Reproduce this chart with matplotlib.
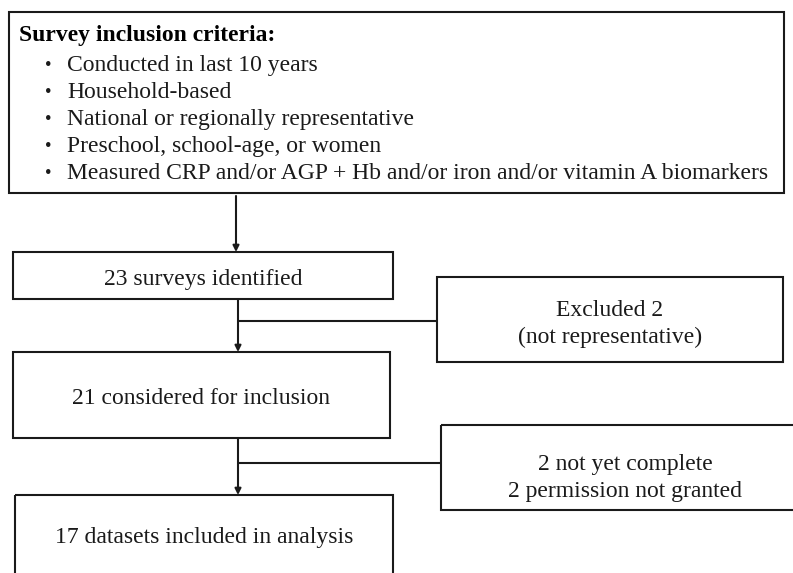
import matplotlib.pyplot as plt
from matplotlib.patches import Rectangle

# texts of the flow chart
criteria_title = "Survey inclusion criteria:"
criteria = [
    "Conducted in last 10 years",
    "Household-based",
    "National or regionally representative",
    "Preschool, school-age, or women",
    "Measured CRP and/or AGP + Hb and/or iron and/or vitamin A biomarkers",
]
main_steps = [
    "23 surveys identified",
    "21 considered for inclusion",
    "17 datasets included in analysis",
]
exclusions = [
    "Excluded 2\n(not representative)",
    "2 not yet complete\n2 permission not granted",
]

W, H = 793, 573
fig = plt.figure(figsize=(W / 100, H / 100), dpi=100)
ax = fig.add_axes([0, 0, 1, 1])
ax.set_xlim(0, W)
ax.set_ylim(H, 0)
ax.axis("off")

FONT = "Liberation Serif"
FS = 17
LC = "#1a1a1a"
LW = 1.5

def box(x0, y0, x1, y1):
    ax.add_patch(Rectangle((x0, y0), x1 - x0, y1 - y0, fill=False,
                           edgecolor=LC, lw=LW, clip_on=False))

def arrow(x, y0, y1):
    ax.annotate("", xy=(x, y1), xytext=(x, y0),
                arrowprops=dict(arrowstyle="-|>", color=LC, lw=LW,
                                mutation_scale=9, shrinkA=0, shrinkB=0))

def branch(x, y, x1):
    ax.plot([x, x1], [y, y], color=LC, lw=LW, solid_capstyle="butt")

# top criteria box
box(9, 12, 784, 193)
ax.text(19, 36, criteria_title, fontsize=FS, fontweight="bold",
        family=FONT, va="center", ha="left", color="black")
for i, c in enumerate(criteria):
    y = 65 + i * 27.2
    ax.text(48, y, "\u2022", fontsize=FS * 0.8, family=FONT, va="center",
            ha="center", color=LC)
    ax.text(67, y, c, fontsize=FS, family=FONT, va="center",
            ha="left", color=LC)

# main column boxes
main_boxes = [(13, 252, 393, 299), (13, 352, 390, 438), (15, 495, 393, 580)]
text_y = [279, 399, 537]
for (x0, y0, x1, y1), t, ty in zip(main_boxes, main_steps, text_y):
    box(x0, y0, x1, y1)
    ax.text((x0 + x1) / 2, ty, t, fontsize=FS, family=FONT,
            va="center", ha="center", color=LC)

# arrows between boxes
arrow(236, 196, 252)
arrow(238, 299, 352)
arrow(238, 438, 495)

# exclusion boxes with branches
side_boxes = [(437, 277, 783, 362), (441, 425, 810, 510)]
branch_y = [321, 463]
text_cy = [324, 478]
for (x0, y0, x1, y1), t, by, ty in zip(side_boxes, exclusions, branch_y, text_cy):
    box(x0, y0, x1, y1)
    branch(238, by, x0)
    ax.text((x0 + x1) / 2, ty, t, fontsize=FS, family=FONT,
            va="center", ha="center", color=LC, linespacing=1.42)

fig.savefig("out.png", dpi=100, facecolor="white")
